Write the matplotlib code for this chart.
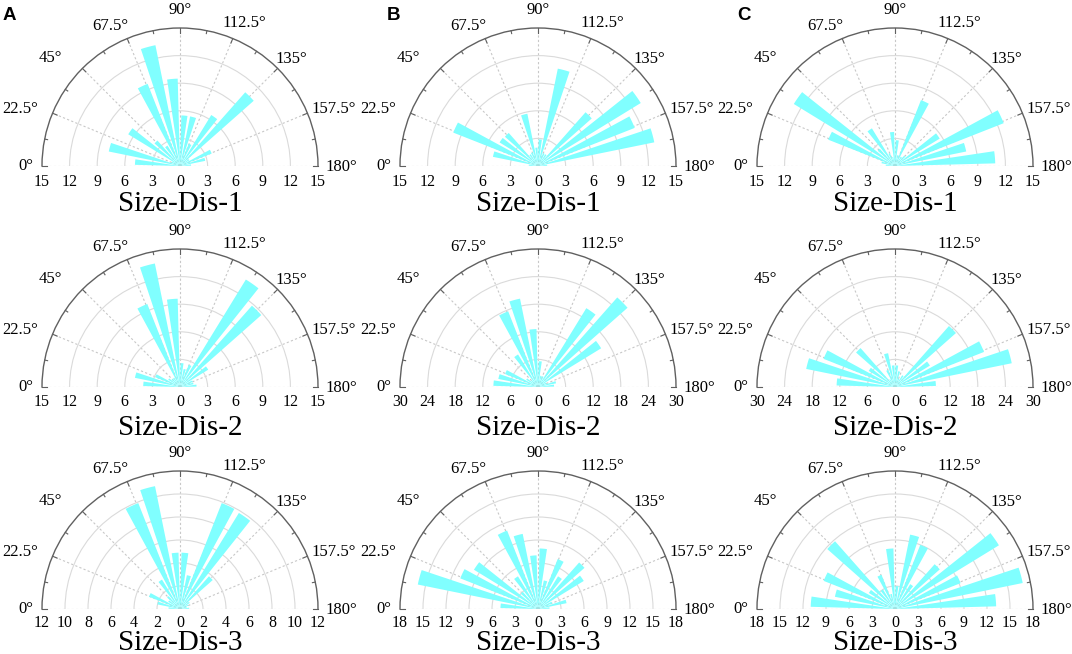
import numpy as np
import matplotlib.pyplot as plt

plt.rcParams['font.family'] = ['Liberation Serif', 'DejaVu Serif']

# bin centres of the 10 degree orientation bins
angles = np.arange(5, 180, 10)

# column A
size_dis_a1 = [4.9, 7.9, 1.0, 6.6, 3.7, 2.6, 9.6, 13.4, 9.5, 5.5, 5.5, 2.6, 6.5, 10.7, 1.2, 3.7, 2.8, 1.2]
size_dis_a2 = [4.0, 5.0, 2.9, 1.5, 1.2, 1.2, 9.7, 13.7, 9.6, 2.6, 2.0, 2.6, 13.7, 11.8, 3.6, 1.5, 1.5, 1.8]
size_dis_a3 = [1.0, 2.0, 2.9, 1.2, 1.5, 3.0, 9.9, 10.9, 4.9, 4.9, 3.0, 9.9, 9.8, 3.8, 1.0, 0.8, 0.6, 0.8]
# column B
size_dis_b1 = [1.0, 5.0, 9.9, 4.9, 4.8, 1.5, 1.6, 5.8, 2.0, 2.9, 10.8, 1.5, 1.5, 7.8, 13.1, 11.3, 12.9, 1.0]
size_dis_b2 = [9.7, 8.8, 7.7, 3.0, 2.0, 8.3, 17.7, 19.6, 12.6, 5.6, 2.5, 2.5, 20.1, 26.0, 16.1, 2.0, 4.0, 3.5]
size_dis_b3 = [4.9, 16.0, 10.9, 9.8, 3.0, 5.0, 11.0, 10.0, 7.0, 7.9, 3.8, 7.0, 5.0, 8.1, 7.0, 2.0, 3.8, 1.5]
# column C
size_dis_c1 = [1.0, 1.5, 7.8, 12.9, 2.5, 4.8, 1.5, 1.0, 3.7, 2.8, 1.2, 7.7, 1.2, 1.5, 5.7, 12.7, 7.9, 10.9]
size_dis_c2 = [12.7, 19.7, 16.7, 6.7, 11.3, 2.0, 4.0, 7.5, 4.7, 4.7, 3.5, 2.0, 3.0, 17.7, 8.9, 20.8, 25.9, 8.9]
size_dis_c3 = [11.0, 8.0, 10.0, 4.0, 11.8, 3.0, 4.8, 2.0, 7.9, 3.0, 9.9, 9.0, 3.8, 7.8, 15.9, 9.2, 17.0, 13.2]

# radial limits and tick step of each panel
r_max = {'a1': 15, 'a2': 15, 'a3': 12, 'b1': 15, 'b2': 30, 'b3': 18, 'c1': 15, 'c2': 30, 'c3': 18}
r_step = {'a1': 3, 'a2': 3, 'a3': 2, 'b1': 3, 'b2': 6, 'b3': 3, 'c1': 3, 'c2': 6, 'c3': 3}

titles = ['Size-Dis-1', 'Size-Dis-2', 'Size-Dis-3']
letters = ['A', 'B', 'C']

W, H = 1072, 654
R = 138
col_x = [180, 538, 895]
row_y = [166, 387, 609]
title_y = [211, 435, 650]
rlab_off = [16, 15, 14]
letter_x = [3, 387, 737]

# where the angle labels sit: (angle shift in deg, radius factor)
label_pos = {0: (0, 1.12), 22.5: (-2.7, 1.23), 45: (-5.2, 1.22), 67.5: (-4.0, 1.13),
             90: (0, 1.13), 112.5: (1.7, 1.14), 135: (1.2, 1.12), 157.5: (2.3, 1.19),
             180: (0.5, 1.17)}


def rose(fig, cx, cy, values, rmax, step, off):
    # half wedge is padded to a square, so the box is 2R x 2R with the base line at 1/4 height
    ax = fig.add_axes([(cx - R) / W, (H - cy - 0.5 * R) / H, 2 * R / W, 2 * R / H],
                      projection='polar')
    ax.set_theta_zero_location('W')
    ax.set_theta_direction(-1)
    ax.set_thetamin(0)
    ax.set_thetamax(180)
    ax.set_axisbelow(True)

    ax.bar(np.deg2rad(angles), values, width=np.deg2rad(7), color='#80ffff',
           edgecolor='none', zorder=3)
    ax.set_ylim(0, rmax)

    ax.set_yticks(np.arange(step, rmax, step))
    ax.set_yticklabels([])
    ax.set_xticks(np.deg2rad(np.arange(0, 181, 22.5)))
    ax.set_xticklabels([])
    ax.tick_params(axis='y', length=0)
    ax.xaxis.grid(True, color='#c8c8c8', linestyle=(0, (2, 2)), linewidth=0.8)
    ax.yaxis.grid(True, color='#dadada', linestyle='-', linewidth=0.8)

    ax.spines['polar'].set_color('#606060')
    ax.spines['polar'].set_linewidth(1.0)
    # start/end get switched back on when drawn, so hide them by colour
    for s in ['start', 'end', 'inner']:
        ax.spines[s].set_color('none')

    # inward tick marks on the outer arc (polar axes draw none by default)
    for a in np.arange(0, 180.1, 11.25):
        length = 5 if a % 22.5 == 0 else 3
        th = np.deg2rad(a)
        ax.plot([th, th], [rmax * (1 - length / R), rmax], color='#606060', lw=0.8,
                zorder=4, clip_on=False)

    # angle labels
    for a, (da, f) in label_pos.items():
        ax.text(np.deg2rad(a + da), rmax * f, f'{a:g}°', ha='center', va='center',
                fontsize=12, clip_on=False)

    # radial labels along the base line, both sides
    for r in np.arange(0, rmax + 1, step):
        for th in ([0] if r == 0 else [0, np.pi]):
            ax.annotate(f'{r:g}', xy=(th, r), xytext=(0, -off), textcoords='offset pixels',
                        ha='center', va='center', fontsize=11.5, annotation_clip=False)
    ax.set_ylim(0, rmax)
    return ax


fig = plt.figure(figsize=(W / 100, H / 100), dpi=100)

data = {'a1': size_dis_a1, 'a2': size_dis_a2, 'a3': size_dis_a3,
        'b1': size_dis_b1, 'b2': size_dis_b2, 'b3': size_dis_b3,
        'c1': size_dis_c1, 'c2': size_dis_c2, 'c3': size_dis_c3}

for j, col in enumerate('abc'):
    for i in range(3):
        key = f'{col}{i + 1}'
        rose(fig, col_x[j], row_y[i], data[key], r_max[key], r_step[key], rlab_off[i])
        fig.text(col_x[j] / W, 1 - title_y[i] / H, titles[i], ha='center', va='baseline',
                 fontsize=21)
    fig.text(letter_x[j] / W, 1 - 20 / H, letters[j], fontsize=13.5, fontweight='bold',
             family='Liberation Sans', va='baseline')

fig.savefig('out.png', dpi=100)
